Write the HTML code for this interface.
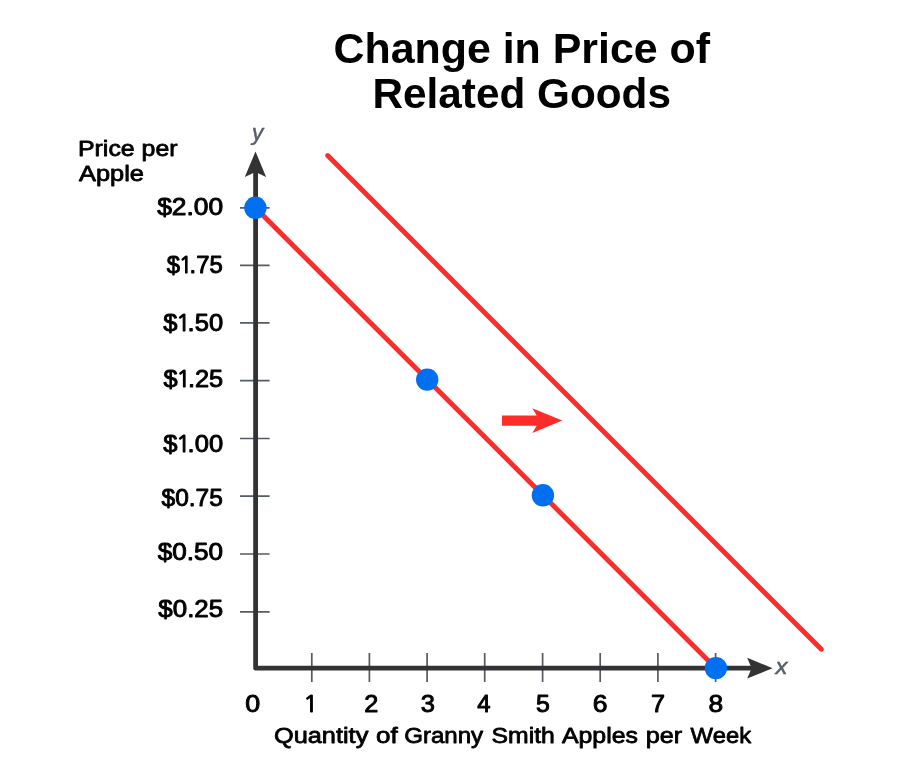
<!DOCTYPE html>
<html lang="en">
<head>
<meta charset="utf-8">
<title>Change in Price of Related Goods</title>
<style>
  html, body { margin: 0; padding: 0; background: #ffffff; }
  body { width: 900px; height: 777px; overflow: hidden; }
  svg { display: block; }
  text { font-family: "Liberation Sans", sans-serif; fill: #000000; }
  .title { font-weight: 700; font-size: 42.5px; }
  .lbl { font-weight: 400; font-size: 22.3px; stroke: #000000; stroke-width: 0.8px; stroke-linejoin: round; }
  .num { font-size: 24.3px; stroke-width: 0.95px; }
  .one { font-family: "NanumGothic", "Liberation Sans", sans-serif; font-size: 23px; stroke-width: 1.1px; }
  .ax { font-style: italic; font-weight: 400; font-size: 21.3px; fill: #575e69; stroke: #575e69; stroke-width: 0.5px; }
</style>
</head>
<body>
<svg width="900" height="777" viewBox="0 0 900 777">
  <rect x="0" y="0" width="900" height="777" fill="#ffffff"/>
  <!-- tick marks -->
  <g id="ticks" stroke="#555b63" stroke-width="1.7" fill="none">
    <path d="M240 207.8H269.6 M240 265.3H269.6 M240 322.9H269.6 M240 380.7H269.6 M240 438.5H269.6 M240 496.2H269.6 M240 554H269.6 M240 611.9H269.6"/>
    <path d="M311.8 653V682 M369.4 653V682 M427.1 653V682 M484.7 653V682 M542.6 653V682 M600.2 653V682 M657.9 653V682 M715.6 653V682"/>
  </g>

  <!-- axes -->
  <path id="axes" d="M255.6 170V668.2H752" fill="none" stroke="#333333" stroke-width="4.8" stroke-linejoin="round"/>
  <path id="ah1" d="M255.5 151.4L266.1 176.9L255.5 172L244.8 176.9Z" fill="#333333"/>
  <path id="ah2" d="M772.6 668.2L747.2 678.6L751.6 668.2L747.2 657.7Z" fill="#333333"/>

  <!-- axis letters -->
  <text id="ay" class="ax" x="251.9" y="139.7" textLength="11.3" lengthAdjust="spacingAndGlyphs">y</text>
  <text id="axx" class="ax" x="775.4" y="673.7" textLength="12" lengthAdjust="spacingAndGlyphs">x</text>

  <!-- demand lines -->
  <g id="lines" stroke="#ff2d2a" stroke-width="4.95" stroke-linecap="round" fill="none">
    <path d="M255.4 207.8L715.9 668.2"/>
    <path d="M327.7 155.6L821.3 649.2"/>
  </g>

  <!-- shift arrow -->
  <path id="shift" d="M502 415.6H536.7L532.3 408.3L562.3 420.6L532.3 432.9L536.7 425.7H502Z" fill="#ff2d2a"/>

  <!-- points -->
  <g id="pts" fill="#0070f0">
    <circle cx="255.4" cy="207.8" r="11.2"/>
    <circle cx="427.2" cy="379.6" r="11.2"/>
    <circle cx="542.9" cy="495.3" r="11.2"/>
    <circle cx="715.9" cy="668.1" r="11.2"/>
  </g>

  <text id="x1" class="lbl num one" transform="translate(310.7 712.2) scale(1.1 1)" text-anchor="middle" x="0" y="0" style="stroke-width:1px">1</text>

  <!-- text -->
  <text id="title" class="title"><tspan x="333.46" y="62.9" textLength="376.61" lengthAdjust="spacingAndGlyphs">Change in Price of</tspan> <tspan x="372.47" y="107.6" textLength="298.52" lengthAdjust="spacingAndGlyphs">Related Goods</tspan></text>
  <text id="ytitle" class="lbl"><tspan x="78.01" y="156.0" textLength="99.53" lengthAdjust="spacingAndGlyphs">Price per</tspan> <tspan x="78.96" y="181.2" textLength="64.94" lengthAdjust="spacingAndGlyphs">Apple</tspan></text>
  <text id="p200" class="lbl num" x="157.17" y="214.8" textLength="66.02" lengthAdjust="spacingAndGlyphs">$2.00</text>
  <text id="p175" class="lbl num" x="166.75" y="273.3" textLength="55.99" lengthAdjust="spacingAndGlyphs">$<tspan class="one" dx="-1.4">1</tspan><tspan dx="-2.8">.75</tspan></text>
  <text id="p150" class="lbl num" x="163.19" y="330.7" textLength="59.94" lengthAdjust="spacingAndGlyphs">$<tspan class="one" dx="-1.4">1</tspan><tspan dx="-2.8">.50</tspan></text>
  <text id="p125" class="lbl num" x="163.61" y="386.5" textLength="59.58" lengthAdjust="spacingAndGlyphs">$<tspan class="one" dx="-1.4">1</tspan><tspan dx="-2.8">.25</tspan></text>
  <text id="p100" class="lbl num" x="163.19" y="452.0" textLength="59.94" lengthAdjust="spacingAndGlyphs">$<tspan class="one" dx="-1.4">1</tspan><tspan dx="-2.8">.00</tspan></text>
  <text id="p075" class="lbl num" x="161.60" y="506.4" textLength="61.26" lengthAdjust="spacingAndGlyphs">$0.75</text>
  <text id="p050" class="lbl num" x="157.81" y="559.9" textLength="65.35" lengthAdjust="spacingAndGlyphs">$0.50</text>
  <text id="p025" class="lbl num" x="158.38" y="616.8" textLength="64.73" lengthAdjust="spacingAndGlyphs">$0.25</text>
  <text id="x0" class="lbl num" x="245.18" y="712.4" textLength="14.93" lengthAdjust="spacingAndGlyphs">0</text>
  <text id="x2" class="lbl num" x="364.33" y="712.4" textLength="14.06" lengthAdjust="spacingAndGlyphs">2</text>
  <text id="x3" class="lbl num" x="420.77" y="712.4" textLength="14.20" lengthAdjust="spacingAndGlyphs">3</text>
  <text id="x4" class="lbl num" x="477.35" y="712.4" textLength="13.30" lengthAdjust="spacingAndGlyphs">4</text>
  <text id="x5" class="lbl num" x="535.90" y="712.4" textLength="13.84" lengthAdjust="spacingAndGlyphs">5</text>
  <text id="x6" class="lbl num" x="592.69" y="712.4" textLength="14.76" lengthAdjust="spacingAndGlyphs">6</text>
  <text id="x7" class="lbl num" x="650.98" y="712.4" textLength="13.99" lengthAdjust="spacingAndGlyphs">7</text>
  <text id="x8" class="lbl num" x="708.61" y="712.4" textLength="14.66" lengthAdjust="spacingAndGlyphs">8</text>
  <text id="xtitle" class="lbl"><tspan x="273.98" y="742.5" textLength="94.35" lengthAdjust="spacingAndGlyphs">Quantity</tspan> <tspan x="375.96" y="742.5" textLength="21.72" lengthAdjust="spacingAndGlyphs">of</tspan> <tspan x="404.16" y="742.5" textLength="78.95" lengthAdjust="spacingAndGlyphs">Granny</tspan> <tspan x="491.63" y="742.5" textLength="63.23" lengthAdjust="spacingAndGlyphs">Smith</tspan> <tspan x="561.95" y="742.5" textLength="75.98" lengthAdjust="spacingAndGlyphs">Apples</tspan> <tspan x="645.72" y="742.5" textLength="36.48" lengthAdjust="spacingAndGlyphs">per</tspan> <tspan x="690.62" y="742.5" textLength="60.47" lengthAdjust="spacingAndGlyphs">Week</tspan></text>
</svg>
</body>
</html>
